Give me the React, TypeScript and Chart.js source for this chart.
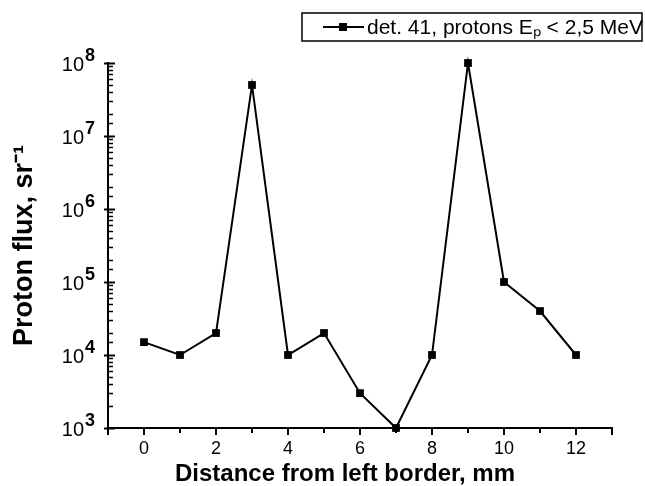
import React, { useEffect, useRef } from "react";
import { Chart, registerables } from "chart.js";

Chart.register(...registerables);

const distances = [0, 1, 2, 3, 4, 5, 6, 7, 8, 9, 10, 11, 12];
const flux = [1.5e4, 1e4, 2e4, 5e7, 1e4, 2e4, 3e3, 1e3, 1e4, 1e8, 1e5, 4e4, 1e4];
const seriesLabel = "det. 41, protons E\u209A < 2,5 MeV";
const xTitle = "Distance from left border, mm";
const yTitle = "Proton flux, sr\u207B\u00B9";

const SANS = "'Liberation Sans', Arial, sans-serif";
const NARROW = "'Liberation Sans Narrow', 'Liberation Sans', Arial, sans-serif";

const isPow10 = (v: number) => {
  const l = Math.log10(v);
  return Math.abs(l - Math.round(l)) < 1e-9;
};

const tickPlugin = {
  id: "customTicks",
  afterDraw(chart: any) {
    const { ctx } = chart;
    const x = chart.scales.x;
    const y = chart.scales.y;
    const ca = chart.chartArea;
    ctx.save();
    ctx.strokeStyle = "#000";
    ctx.fillStyle = "#000";
    ctx.lineWidth = 2;
    // x ticks (outside, downward)
    x.ticks.forEach((t: any) => {
      const px = x.getPixelForValue(t.value);
      const major = Math.round(t.value) % 2 === 0 || t.value === x.min || t.value === x.max;
      const len = major ? 7 : 5;
      ctx.beginPath();
      ctx.moveTo(px, ca.bottom);
      ctx.lineTo(px, ca.bottom + len);
      ctx.stroke();
    });
    // y ticks (inside) and labels 10^n
    y.ticks.forEach((t: any) => {
      const py = Math.round(y.getPixelForValue(t.value)) + 0.5;
      const major = isPow10(t.value);
      ctx.lineWidth = major ? 2 : 1.5;
      ctx.beginPath();
      ctx.moveTo(ca.left - (major ? 4 : 0), py);
      ctx.lineTo(ca.left + (major ? 7 : 5), py);
      ctx.stroke();
      if (major) {
        const e = Math.round(Math.log10(t.value));
        ctx.font = "20px " + SANS;
        ctx.textAlign = "right";
        ctx.textBaseline = "middle";
        ctx.fillText("10", 84, py + 2);
        ctx.font = "bold 18px " + SANS;
        ctx.textAlign = "left";
        ctx.fillText(String(e), 85, py - 7);
      }
    });
    // axis titles
    ctx.font = "bold 24px " + SANS;
    ctx.textAlign = "center";
    ctx.textBaseline = "middle";
    ctx.fillText(chart.options.scales.x.title.text, (ca.left + ca.right) / 2 - 15, 474);
    ctx.save();
    ctx.translate(25, (ca.top + ca.bottom) / 2);
    ctx.rotate(-Math.PI / 2);
    ctx.font = "bold 27px " + SANS;
    ctx.fillText(chart.options.scales.y.title.text, 0, 0);
    ctx.restore();
    // legend
    const lx = 302, ly = 13, lw = 340, lh = 28;
    ctx.lineWidth = 1.5;
    ctx.strokeRect(lx, ly, lw, lh);
    const my = ly + lh / 2;
    ctx.lineWidth = 2;
    ctx.beginPath();
    ctx.moveTo(323, my);
    ctx.lineTo(364, my);
    ctx.stroke();
    ctx.fillRect(339, my - 4, 8, 8);
    ctx.font = "21px " + SANS;
    ctx.textBaseline = "middle";
    ctx.textAlign = "left";
    ctx.fillText(chart.data.datasets[0].label, 367, my + 1);
    ctx.restore();
  },
};

export default function App() {
  const ref = useRef<HTMLCanvasElement | null>(null);
  useEffect(() => {
    if (!ref.current) return;
    const chart = new Chart(ref.current, {
      type: "line",
      data: {
        datasets: [
          {
            label: seriesLabel,
            data: distances.map((d, i) => ({ x: d, y: flux[i] })),
            borderColor: "#000",
            backgroundColor: "#000",
            borderWidth: 2,
            pointStyle: "rect",
            pointRadius: 5.5,
            pointBorderWidth: 0,
            pointBackgroundColor: "#000",
            clip: false,
            tension: 0,
          },
        ],
      },
      options: {
        responsive: false,
        animation: false,
        layout: { padding: { left: 8, right: 33, top: 63, bottom: 0 } },
        plugins: { legend: { display: false }, tooltip: { enabled: false } },
        scales: {
          x: {
            type: "linear",
            min: -1,
            max: 13,
            ticks: {
              stepSize: 1,
              autoSkip: false,
              maxRotation: 0,
              padding: 10,
              color: "#000",
              font: { family: NARROW, size: 18 },
              callback: (v: any) => (v >= 0 && v <= 12 && v % 2 === 0 ? String(v) : ""),
            },
            grid: { display: false, drawTicks: false },
            border: { display: true, color: "#000", width: 2 },
            title: { display: false, text: xTitle },
            afterFit: (s: any) => {
              s.height = 58;
            },
          },
          y: {
            type: "logarithmic",
            min: 1e3,
            max: 1e8,
            ticks: {
              autoSkip: false,
              padding: 12,
              color: "#000",
              font: { family: SANS, size: 19 },
              callback: () => "",
            },
            grid: { display: false, drawTicks: false },
            border: { display: true, color: "#000", width: 2 },
            title: { display: false, text: yTitle },
            afterFit: (s: any) => {
              s.width = 100;
            },
          },
        },
      },
      plugins: [tickPlugin],
    });
    return () => chart.destroy();
  }, []);
  return (
    <div style={{ position: "absolute", left: 0, top: 0, width: 645, height: 486, background: "#fff" }}>
      <canvas ref={ref} width={645} height={486} />
    </div>
  );
}
